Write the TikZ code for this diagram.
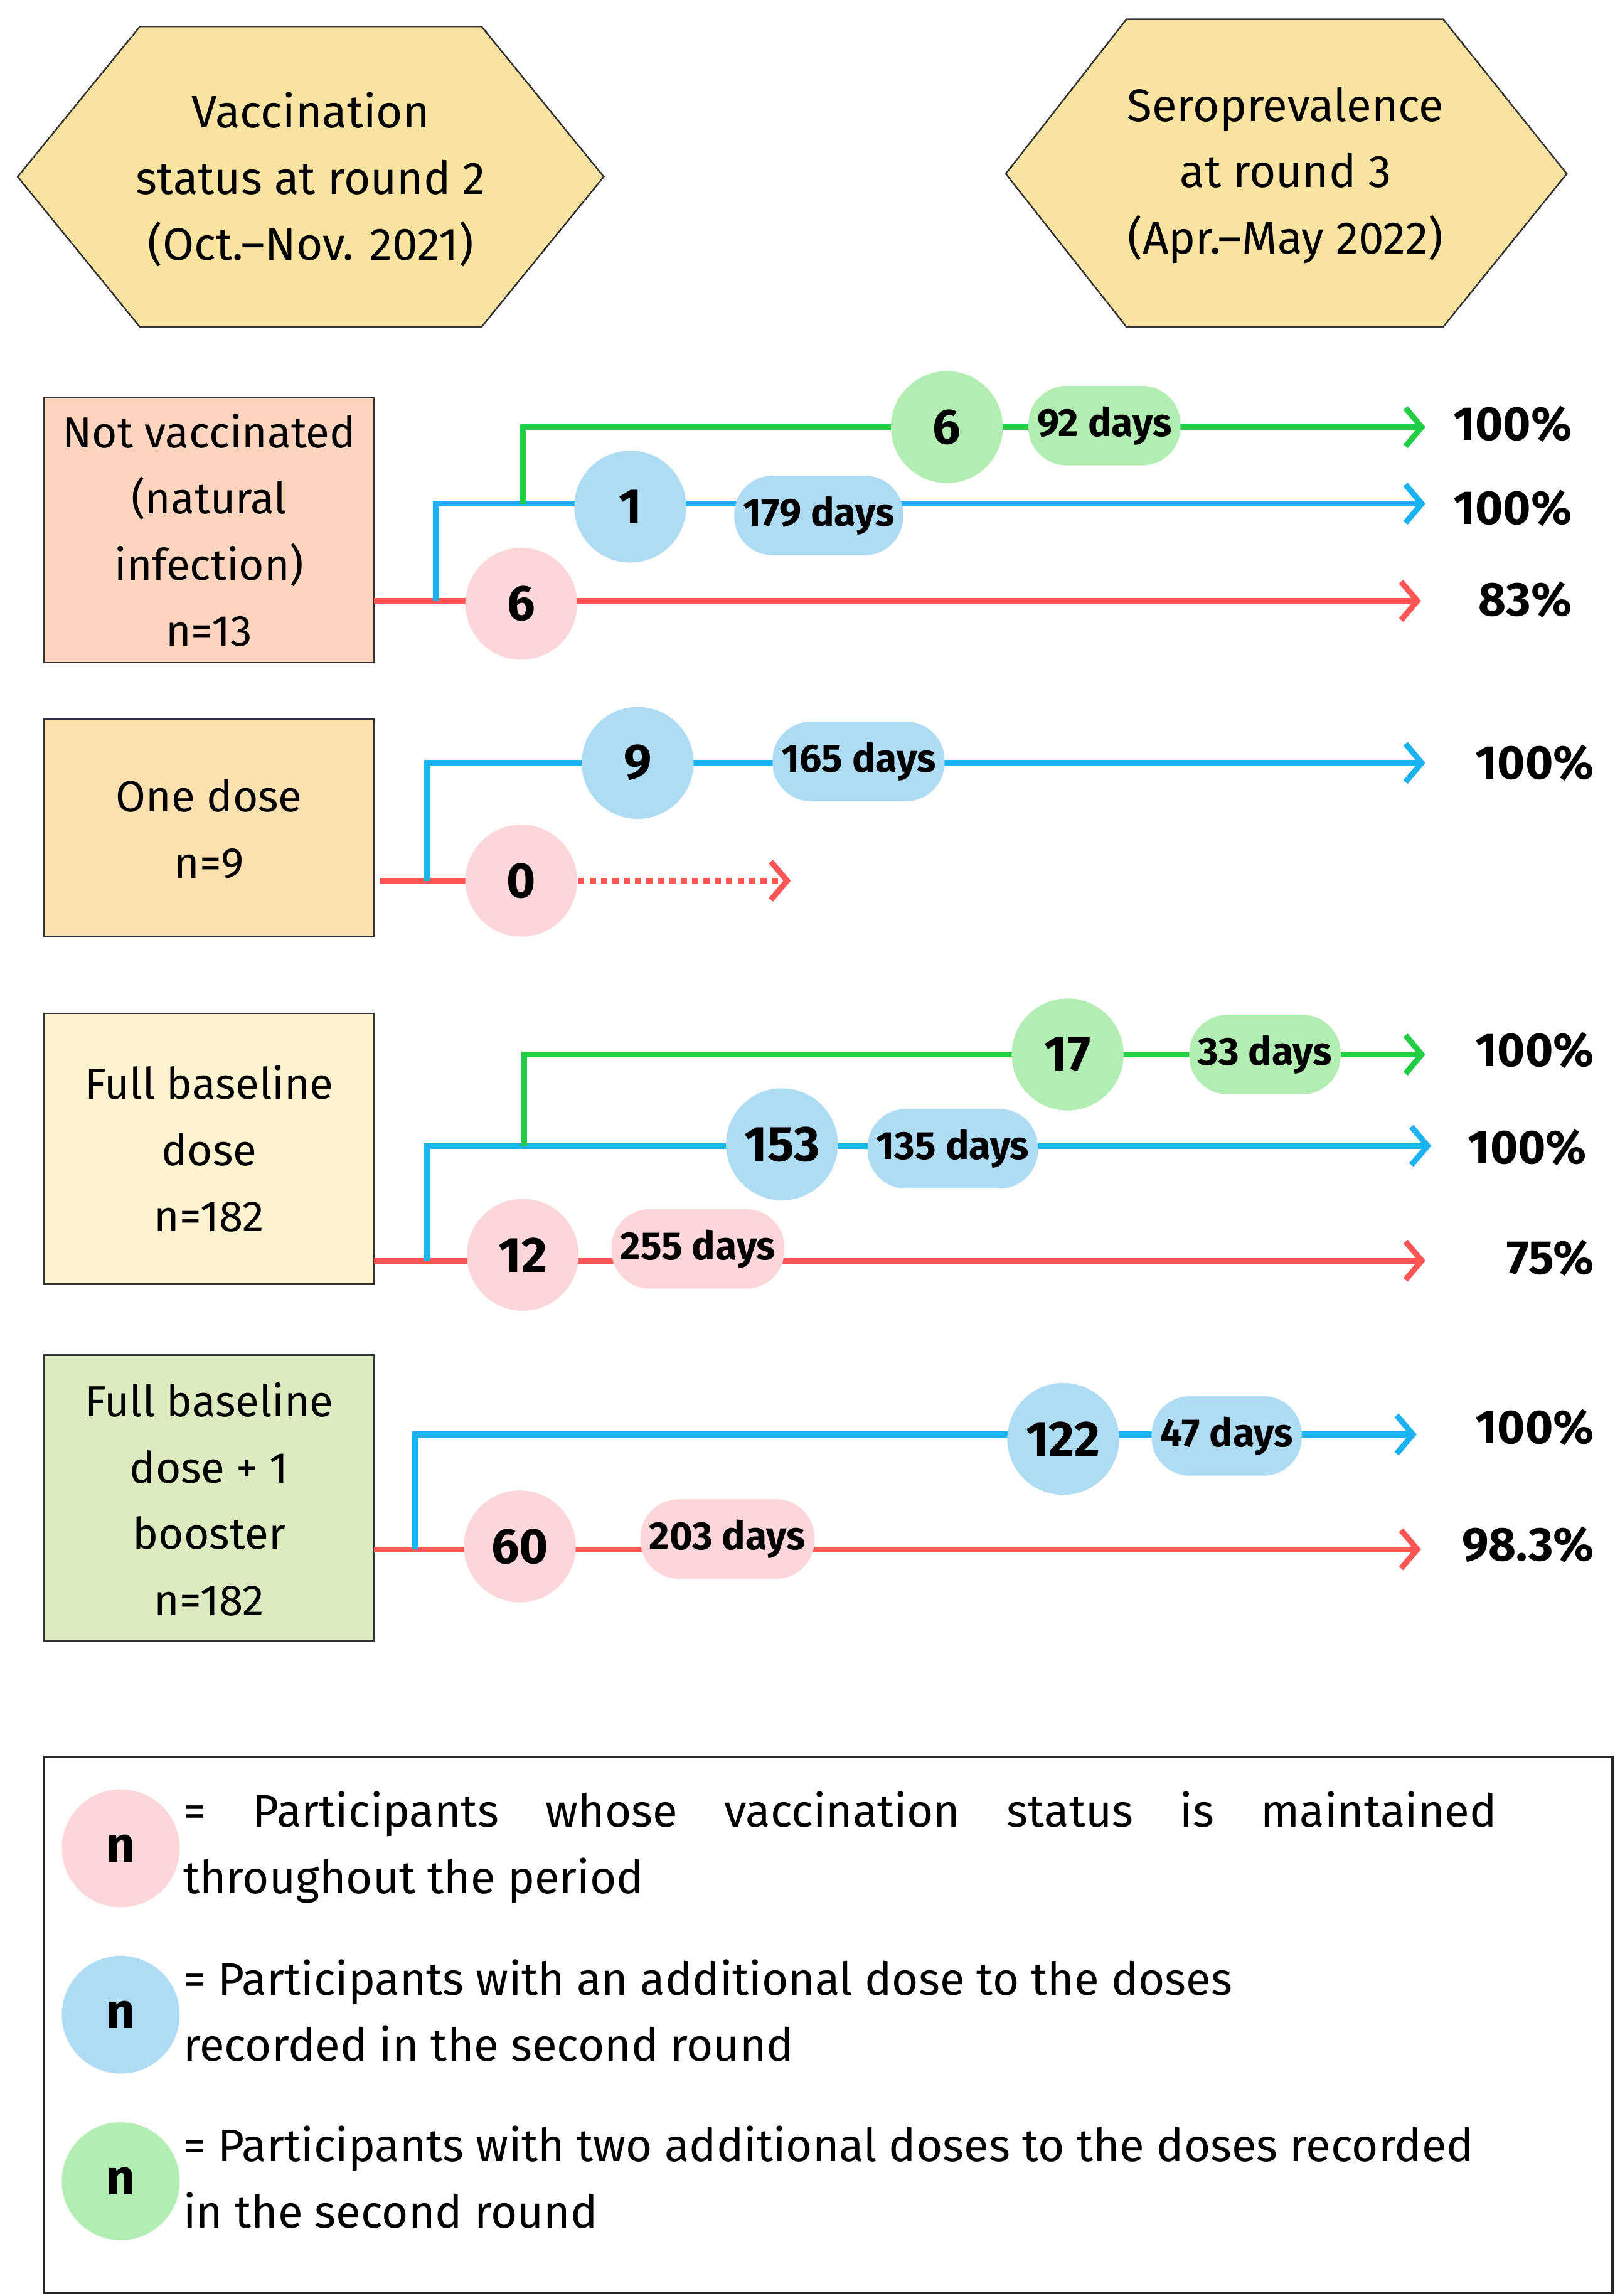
\documentclass[tikz,border=0pt]{standalone}
\usepackage{fontspec}
\setmainfont{Fira Sans}
\usetikzlibrary{arrows.meta}
\definecolor{rl}{HTML}{FF5555}\definecolor{bl}{HTML}{1AB2F0}\definecolor{gl}{HTML}{22CC44}
\definecolor{rc}{HTML}{FDD6DA}\definecolor{bc}{HTML}{AEDCF5}\definecolor{gc}{HTML}{B2EDB2}
\definecolor{hx}{HTML}{F9E3A0}
\definecolor{f1}{HTML}{FDD5BE}\definecolor{f2}{HTML}{FDE0B0}\definecolor{f3}{HTML}{FEF3CF}\definecolor{f4}{HTML}{DCEBC0}
\tikzset{
 ln/.style={line width=5.5pt},
 arr/.style={ln,-{Straight Barb[length=0.55cm,width=1.3cm,line width=5.5pt]}},
 circ/.style={circle,minimum size=3.8cm,inner sep=0pt,font=\fontsize{48}{52}\selectfont\bfseries},
 pill/.style={rounded corners=1.3cm,minimum height=2.7cm,inner xsep=0.3cm,font=\fontsize{38}{40}\selectfont\bfseries},
 box/.style={draw=black!80,line width=1.5pt,align=center,font=\fontsize{42}{64}\selectfont},
 pct/.style={anchor=east,font=\fontsize{46}{50}\selectfont\bfseries},
 hex/.style={fill=hx,draw=black!80,line width=1.5pt},
 htxt/.style={align=center,font=\fontsize{44}{64}\selectfont},
 lg/.style={anchor=north west,align=left,font=\fontsize{44}{64}\selectfont},
}
\begin{document}
\begin{tikzpicture}[x=0.05cm,y=-0.05cm]
\useasboundingbox[fill=white] (0,0) rectangle (1100,1559);
% hexagons
\draw[hex] (12,120)--(95,18)--(327,18)--(410,120)--(327,222)--(95,222)--cycle;
\node[htxt] (h1) at (211,122) {Vaccination\\status at round 2\\(Oct.–Nov. 2021)};
\draw[hex] (683,118)--(765,13)--(980,13)--(1064,118)--(980,222)--(765,222)--cycle;
\node[htxt] (h2) at (873,119) {Seroprevalence\\at round 3\\(Apr.–May 2022)};
% boxes
\path[box,fill=f1] (30,270) rectangle (254,450);
\node[box,draw=none] (b1) at (142,360) {Not vaccinated\\(natural\\infection)\\n=13};
\path[box,fill=f2] (30,488) rectangle (254,636);
\node[box,draw=none] (b2) at (142,563) {One dose\\n=9};
\path[box,fill=f3] (30,688) rectangle (254,872);
\node[box,draw=none] (b3) at (142,780) {Full baseline\\dose\\n=182};
\path[box,fill=f4] (30,920) rectangle (254,1114);
\node[box,draw=none] (b4) at (142,1018) {Full baseline\\dose + 1\\booster\\n=182};
% group 1
\coordinate (r1s) at (254,408); \coordinate (r1e) at (965,408);
\draw[arr,rl] (r1s)--(r1e);
\coordinate (b1a) at (296,408);\coordinate (b1b) at (296,342);\coordinate (b1e) at (968,342);
\draw[arr,bl] (b1a)--(b1b)--(b1e);
\coordinate (g1a) at (355,342);\coordinate (g1b) at (355,290);\coordinate (g1e) at (968,290);
\draw[arr,gl] (g1a)--(g1b)--(g1e);
\node[circ,fill=rc] (c1r) at (354,410) {6};
\node[circ,fill=bc] (c1b) at (428,344) {1};
\node[pill,fill=bc] (p1b) at (556,350) {179 days};
\node[circ,fill=gc] (c1g) at (643,290) {6};
\node[pill,fill=gc] (p1g) at (750,289) {92 days};
\node[pct] at (1070,288) {100\%};
\node[pct] at (1070,345) {100\%};
\node[pct] at (1070,407) {83\%};
% group 2
\coordinate (r2s) at (258,598);\coordinate (r2e) at (537,598);
\draw[ln,rl] (r2s)--(354,598);
\draw[arr,rl,dash pattern=on 6pt off 5pt] (354,598)--(r2e);
\coordinate (b2a) at (290,598);\coordinate (b2b) at (290,518);\coordinate (b2e) at (968,518);
\draw[arr,bl] (b2a)--(b2b)--(b2e);
\node[circ,fill=rc] (c2r) at (354,598) {0};
\node[circ,fill=bc] (c2b) at (433,518) {9};
\node[pill,fill=bc] (p2b) at (583,517) {165 days};
\node[pct] at (1085,518) {100\%};
% group 3
\coordinate (r3s) at (254,856);\coordinate (r3e) at (968,856);
\draw[arr,rl] (r3s)--(r3e);
\coordinate (b3a) at (290,856);\coordinate (b3b) at (290,778);\coordinate (b3e) at (972,778);
\draw[arr,bl] (b3a)--(b3b)--(b3e);
\coordinate (g3a) at (356,778);\coordinate (g3b) at (356,716);\coordinate (g3e) at (968,716);
\draw[arr,gl] (g3a)--(g3b)--(g3e);
\node[circ,fill=rc] (c3r) at (355,852) {12};
\node[pill,fill=rc] (p3r) at (474,848) {255 days};
\node[circ,fill=bc] (c3b) at (531,777) {153};
\node[pill,fill=bc] (p3b) at (647,780) {135 days};
\node[circ,fill=gc] (c3g) at (725,716) {17};
\node[pill,fill=gc] (p3g) at (859,716) {33 days};
\node[pct] at (1085,713) {100\%};
\node[pct] at (1080,779) {100\%};
\node[pct] at (1085,854) {75\%};
% group 4
\coordinate (r4s) at (254,1052);\coordinate (r4e) at (965,1052);
\draw[arr,rl] (r4s)--(r4e);
\coordinate (b4a) at (282,1052);\coordinate (b4b) at (282,974);\coordinate (b4e) at (962,974);
\draw[arr,bl] (b4a)--(b4b)--(b4e);
\node[circ,fill=rc] (c4r) at (353,1050) {60};
\node[pill,fill=rc] (p4r) at (494,1045) {203 days};
\node[circ,fill=bc] (c4b) at (722,977) {122};
\node[pill,fill=bc] (p4b) at (833,975) {47 days};
\node[pct] at (1085,969) {100\%};
\node[pct] at (1085,1049) {98.3\%};
% legend
\draw[line width=2pt,black!85] (30,1193) rectangle (1095,1557);
\node[circ,fill=rc,minimum size=4cm] (l1) at (82,1255) {n};
\node[circ,fill=bc,minimum size=4cm] (l2) at (82,1368) {n};
\node[circ,fill=gc,minimum size=4cm] (l3) at (82,1481) {n};
\node[lg] (t1) at (122,1214) {\makebox[44.6cm][s]{= Participants whose vaccination status is maintained}\\throughout the period};
\node[lg] (t2) at (122,1328) {= Participants with an additional dose to the doses\\recorded in the second round};
\node[lg] (t3) at (122,1441) {= Participants with two additional doses to the doses recorded\\in the second round};
\end{tikzpicture}
\end{document}
